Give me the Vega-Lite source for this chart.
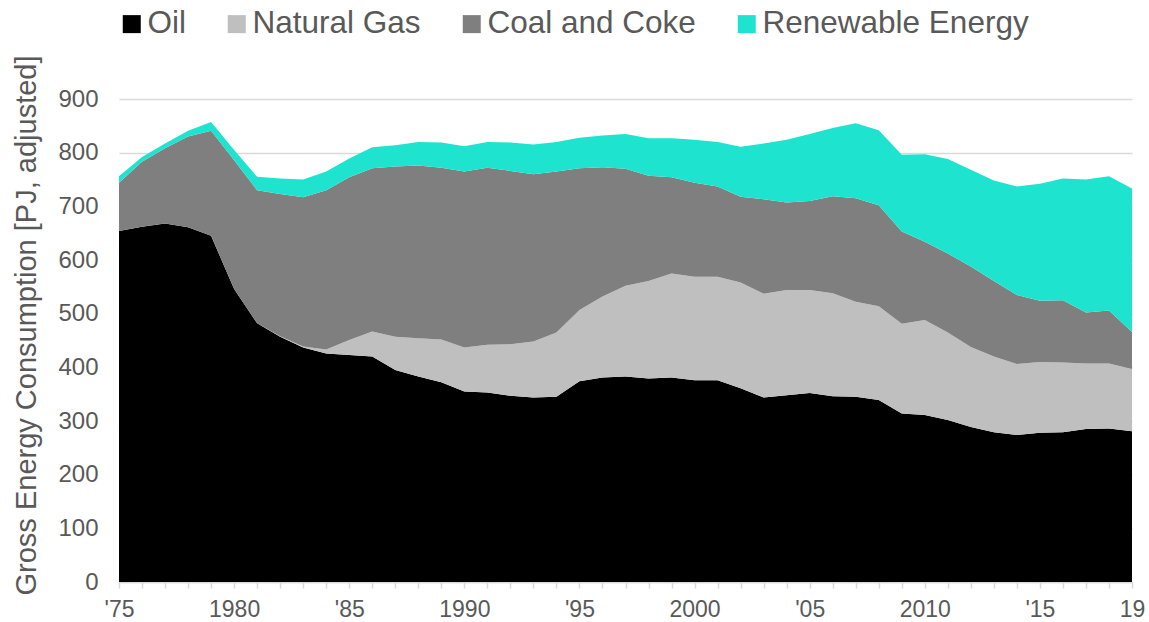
{
  "$schema": "https://vega.github.io/schema/vega-lite/v6.json",
  "width": 1013,
  "height": 483,
  "autosize": {"type": "none"},
  "padding": {"left": 119, "top": 99, "right": 17, "bottom": 40},
  "background": "#ffffff",
  "config": {"view": {"stroke": null}, "font": "Liberation Sans"},
  "data": {
    "values": [
      {"year": 1975, "Oil": 654, "Natural Gas": 0, "Coal and Coke": 90, "Renewable Energy": 12},
      {"year": 1976, "Oil": 662, "Natural Gas": 0, "Coal and Coke": 121, "Renewable Energy": 9},
      {"year": 1977, "Oil": 668, "Natural Gas": 0, "Coal and Coke": 140, "Renewable Energy": 9},
      {"year": 1978, "Oil": 661, "Natural Gas": 0, "Coal and Coke": 169, "Renewable Energy": 11},
      {"year": 1979, "Oil": 645, "Natural Gas": 0, "Coal and Coke": 196, "Renewable Energy": 16},
      {"year": 1980, "Oil": 546, "Natural Gas": 0, "Coal and Coke": 240, "Renewable Energy": 19},
      {"year": 1981, "Oil": 482, "Natural Gas": 0, "Coal and Coke": 248, "Renewable Energy": 25},
      {"year": 1982, "Oil": 457, "Natural Gas": 1, "Coal and Coke": 265, "Renewable Energy": 29},
      {"year": 1983, "Oil": 437, "Natural Gas": 2, "Coal and Coke": 278, "Renewable Energy": 33},
      {"year": 1984, "Oil": 426, "Natural Gas": 7, "Coal and Coke": 297, "Renewable Energy": 35},
      {"year": 1985, "Oil": 423, "Natural Gas": 28, "Coal and Coke": 303, "Renewable Energy": 35},
      {"year": 1986, "Oil": 420, "Natural Gas": 47, "Coal and Coke": 304, "Renewable Energy": 39},
      {"year": 1987, "Oil": 395, "Natural Gas": 62, "Coal and Coke": 317, "Renewable Energy": 40},
      {"year": 1988, "Oil": 383, "Natural Gas": 71, "Coal and Coke": 322, "Renewable Energy": 44},
      {"year": 1989, "Oil": 372, "Natural Gas": 80, "Coal and Coke": 320, "Renewable Energy": 47},
      {"year": 1990, "Oil": 355, "Natural Gas": 82, "Coal and Coke": 328, "Renewable Energy": 47},
      {"year": 1991, "Oil": 353, "Natural Gas": 89, "Coal and Coke": 330, "Renewable Energy": 48},
      {"year": 1992, "Oil": 347, "Natural Gas": 96, "Coal and Coke": 323, "Renewable Energy": 53},
      {"year": 1993, "Oil": 344, "Natural Gas": 104, "Coal and Coke": 312, "Renewable Energy": 55},
      {"year": 1994, "Oil": 345, "Natural Gas": 120, "Coal and Coke": 300, "Renewable Energy": 55},
      {"year": 1995, "Oil": 374, "Natural Gas": 133, "Coal and Coke": 264, "Renewable Energy": 57},
      {"year": 1996, "Oil": 381, "Natural Gas": 151, "Coal and Coke": 241, "Renewable Energy": 59},
      {"year": 1997, "Oil": 383, "Natural Gas": 169, "Coal and Coke": 218, "Renewable Energy": 65},
      {"year": 1998, "Oil": 379, "Natural Gas": 182, "Coal and Coke": 196, "Renewable Energy": 70},
      {"year": 1999, "Oil": 381, "Natural Gas": 194, "Coal and Coke": 179, "Renewable Energy": 73},
      {"year": 2000, "Oil": 376, "Natural Gas": 193, "Coal and Coke": 175, "Renewable Energy": 80},
      {"year": 2001, "Oil": 376, "Natural Gas": 193, "Coal and Coke": 168, "Renewable Energy": 83},
      {"year": 2002, "Oil": 361, "Natural Gas": 197, "Coal and Coke": 160, "Renewable Energy": 93},
      {"year": 2003, "Oil": 344, "Natural Gas": 193, "Coal and Coke": 176, "Renewable Energy": 104},
      {"year": 2004, "Oil": 348, "Natural Gas": 196, "Coal and Coke": 163, "Renewable Energy": 117},
      {"year": 2005, "Oil": 352, "Natural Gas": 192, "Coal and Coke": 166, "Renewable Energy": 125},
      {"year": 2006, "Oil": 346, "Natural Gas": 192, "Coal and Coke": 181, "Renewable Energy": 127},
      {"year": 2007, "Oil": 345, "Natural Gas": 177, "Coal and Coke": 193, "Renewable Energy": 140},
      {"year": 2008, "Oil": 339, "Natural Gas": 175, "Coal and Coke": 188, "Renewable Energy": 140},
      {"year": 2009, "Oil": 314, "Natural Gas": 167, "Coal and Coke": 172, "Renewable Energy": 143},
      {"year": 2010, "Oil": 311, "Natural Gas": 177, "Coal and Coke": 146, "Renewable Energy": 163},
      {"year": 2011, "Oil": 302, "Natural Gas": 163, "Coal and Coke": 147, "Renewable Energy": 176},
      {"year": 2012, "Oil": 289, "Natural Gas": 149, "Coal and Coke": 150, "Renewable Energy": 180},
      {"year": 2013, "Oil": 279, "Natural Gas": 141, "Coal and Coke": 141, "Renewable Energy": 187},
      {"year": 2014, "Oil": 274, "Natural Gas": 132, "Coal and Coke": 129, "Renewable Energy": 202},
      {"year": 2015, "Oil": 278, "Natural Gas": 132, "Coal and Coke": 114, "Renewable Energy": 218},
      {"year": 2016, "Oil": 279, "Natural Gas": 130, "Coal and Coke": 116, "Renewable Energy": 227},
      {"year": 2017, "Oil": 285, "Natural Gas": 122, "Coal and Coke": 95, "Renewable Energy": 248},
      {"year": 2018, "Oil": 286, "Natural Gas": 121, "Coal and Coke": 99, "Renewable Energy": 250},
      {"year": 2019, "Oil": 281, "Natural Gas": 116, "Coal and Coke": 69, "Renewable Energy": 267}
    ]
  },
  "transform": [
    {"fold": ["Oil", "Natural Gas", "Coal and Coke", "Renewable Energy"], "as": ["source", "value"]},
    {"calculate": "indexof(['Oil','Natural Gas','Coal and Coke','Renewable Energy'], datum.source)", "as": "rank"}
  ],
  "mark": {"type": "area", "opacity": 1},
  "encoding": {
    "x": {
      "field": "year",
      "type": "quantitative",
      "scale": {"domain": [1975, 2019], "nice": false, "zero": false},
      "axis": {
        "title": null,
        "values": [1975,1976,1977,1978,1979,1980,1981,1982,1983,1984,1985,1986,1987,1988,1989,1990,1991,1992,1993,1994,1995,1996,1997,1998,1999,2000,2001,2002,2003,2004,2005,2006,2007,2008,2009,2010,2011,2012,2013,2014,2015,2016,2017,2018,2019],
        "labelExpr": "datum.value == 2019 ? '19' : (datum.value % 10 == 0 ? '' + datum.value : (datum.value % 5 == 0 ? \"'\" + substring('' + datum.value, 2) : ''))",
        "grid": false,
        "domain": true,
        "domainColor": "#d9d9d9",
        "domainWidth": 1.5,
        "ticks": true,
        "tickColor": "#d9d9d9",
        "tickWidth": 1.5,
        "tickSize": 6,
        "labelFontSize": 23,
        "labelColor": "#595959",
        "labelPadding": 10,
        "labelFlush": false,
        "labelOverlap": false
      }
    },
    "y": {
      "field": "value",
      "type": "quantitative",
      "stack": "zero",
      "scale": {"domain": [0, 900], "nice": false},
      "axis": {
        "title": "Gross Energy Consumption [PJ, adjusted]",
        "values": [0, 100, 200, 300, 400, 500, 600, 700, 800, 900],
        "grid": true,
        "gridColor": "#d9d9d9",
        "gridWidth": 1.5,
        "domain": false,
        "ticks": false,
        "tickSize": 0,
        "labelFontSize": 24,
        "labelColor": "#595959",
        "labelPadding": 21,
        "titleFontSize": 29,
        "titleFontWeight": "normal",
        "titleColor": "#595959",
        "titleX": -93,
        "titleY": 226,
        "titleBaseline": "middle"
      }
    },
    "color": {
      "field": "source",
      "type": "nominal",
      "scale": {
        "domain": ["Oil", "Natural Gas", "Coal and Coke", "Renewable Energy"],
        "range": ["#000000", "#bfbfbf", "#7f7f7f", "#1de3cf"]
      },
      "legend": {
        "orient": "none",
        "legendX": -3,
        "legendY": -91,
        "direction": "horizontal",
        "columns": 4,
        "title": null,
        "symbolType": "square",
        "symbolSize": 324,
        "symbolStrokeWidth": 0,
        "symbolOpacity": 1,
        "labelFontSize": 31.5,
        "labelColor": "#595959",
        "labelLimit": 500,
        "labelOffset": 0,
        "columnPadding": 35,
        "padding": 0
      }
    },
    "order": {"field": "rank", "type": "quantitative"}
  }
}
